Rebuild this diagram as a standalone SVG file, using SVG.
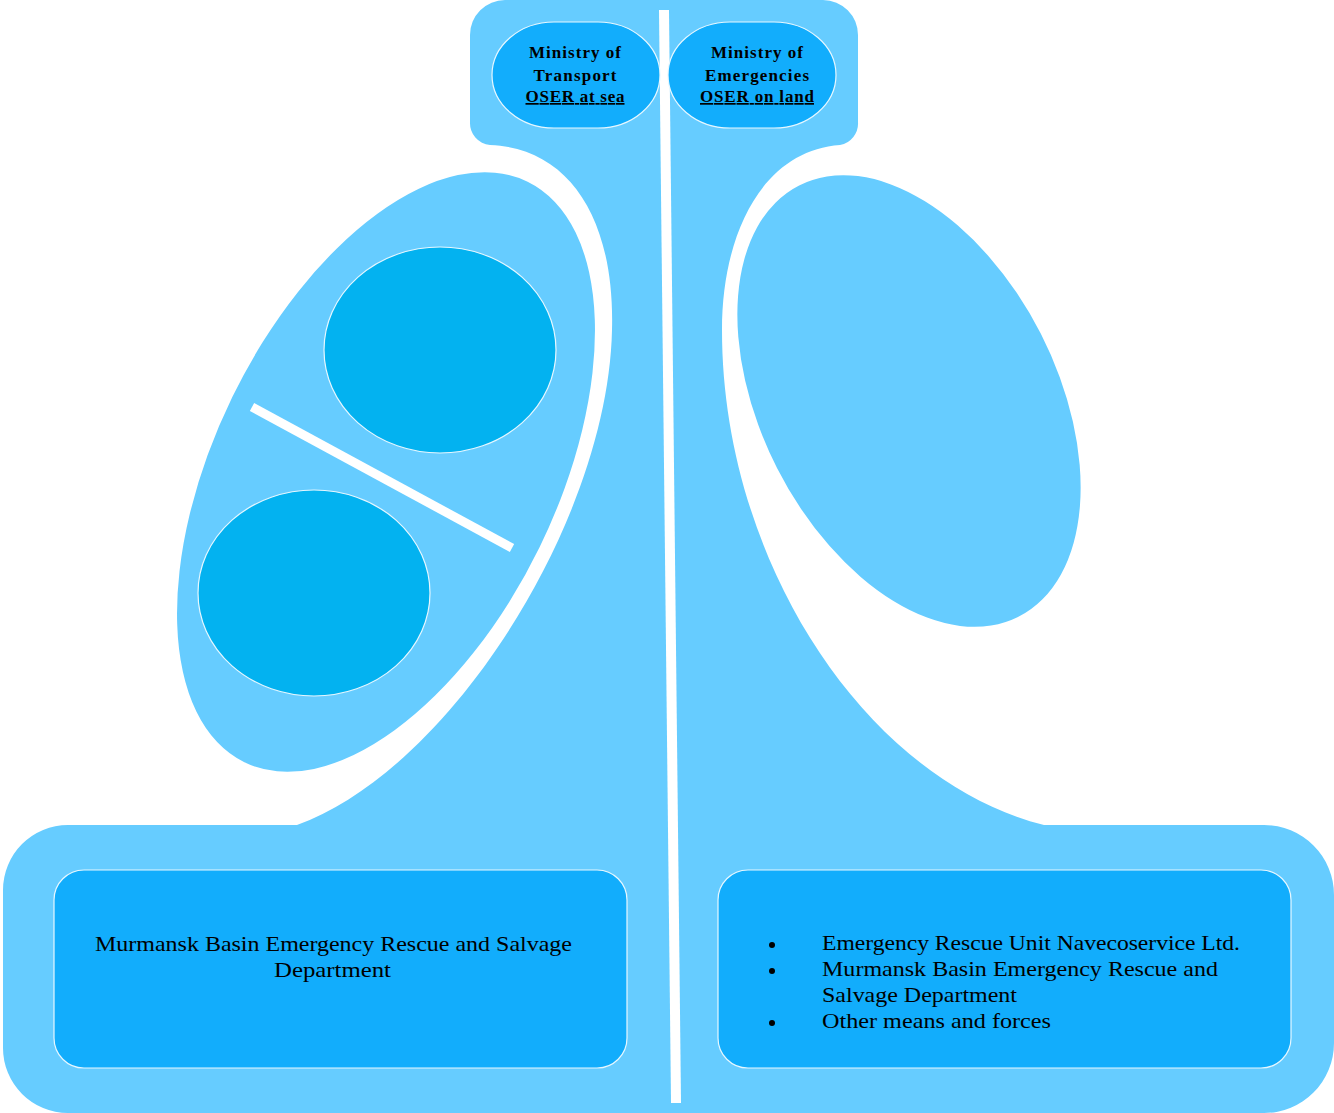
<svg xmlns="http://www.w3.org/2000/svg" width="1334" height="1113" viewBox="0 0 1334 1113">
<style>
.bg{fill:#66CCFF}
.box{fill:#12ADFC;stroke:#E6F7FF;stroke-width:1.2}
.circ{fill:#03B2F0;stroke:#E6F7FF;stroke-width:1.2}
.gap{stroke:#FFFFFF;stroke-width:10;fill:none}
.t{font-family:"Liberation Serif","Times New Roman",serif;fill:#000}
.tb{font-family:"Liberation Serif","Times New Roman",serif;font-weight:bold;font-size:17px;fill:#000;text-anchor:middle}
.tl{font-size:22px}
</style>
<rect width="1334" height="1113" fill="#FFFFFF"/>
<g id="frame">
<path class="bg" d="M505,0 H823 A35,35 0 0 1 858,35 V122 A22,22 0 0 1 840,145 C765,150 722,230 722,330 C722,560 865,780 1044,825 H1264 A70,70 0 0 1 1334,895 V1043 A70,70 0 0 1 1264,1113 H68 A65,65 0 0 1 3,1048 V890 A65,65 0 0 1 68,825 H297 C450,770 608,520 612,330 C615,220 570,148 490,145 A22,22 0 0 1 470,122 V35 A35,35 0 0 1 505,0 Z"/>
</g>
<g id="left-ellipse">
<ellipse class="bg" cx="386" cy="472" rx="323" ry="171" transform="rotate(-64 386 472)"/>
<ellipse class="circ" cx="440" cy="350" rx="116" ry="103"/>
<ellipse class="circ" cx="314" cy="593" rx="116" ry="103"/>
<line x1="252" y1="407" x2="512" y2="548" stroke="#FFFFFF" stroke-width="9"/>
</g>
<g id="right-ellipse">
<ellipse class="bg" cx="909" cy="401" rx="242" ry="148" transform="rotate(63 909 401)"/>
</g>
<g id="connectors">
<line class="gap" x1="664" y1="10" x2="676" y2="1103"/>
</g>
<g id="node-transport">
<rect class="box" x="492" y="22" width="168" height="106" rx="62" ry="53"/>
<text class="tb" x="575" y="58" textLength="92" lengthAdjust="spacing">Ministry of</text>
<text class="tb" x="575" y="81" textLength="83" lengthAdjust="spacing">Transport</text>
<text class="tb" x="575" y="102" textLength="99" lengthAdjust="spacing" text-decoration="underline">OSER at sea</text>
</g>
<g id="node-emergencies">
<rect class="box" x="668" y="22" width="168" height="106" rx="62" ry="53"/>
<text class="tb" x="757" y="58" textLength="92" lengthAdjust="spacing">Ministry of</text>
<text class="tb" x="757" y="81" textLength="104" lengthAdjust="spacing">Emergencies</text>
<text class="tb" x="757" y="102" textLength="114" lengthAdjust="spacing" text-decoration="underline">OSER on land</text>
</g>
<g id="node-sea-forces">
<rect class="box" x="54" y="870" width="573" height="198" rx="30"/>
<text class="t tl" x="95" y="951" textLength="477" lengthAdjust="spacingAndGlyphs">Murmansk Basin Emergency Rescue and Salvage</text>
<text class="t tl" x="274" y="977" textLength="117" lengthAdjust="spacingAndGlyphs">Department</text>
</g>
<g id="node-land-forces">
<rect class="box" x="718" y="870" width="573" height="198" rx="30"/>
<circle cx="772" cy="945" r="3"/>
<circle cx="772" cy="971" r="3"/>
<circle cx="772" cy="1023" r="3"/>
<text class="t tl" x="822" y="950" textLength="418" lengthAdjust="spacingAndGlyphs">Emergency Rescue Unit Navecoservice Ltd.</text>
<text class="t tl" x="822" y="976" textLength="396" lengthAdjust="spacingAndGlyphs">Murmansk Basin Emergency Rescue and</text>
<text class="t tl" x="822" y="1002" textLength="195" lengthAdjust="spacingAndGlyphs">Salvage Department</text>
<text class="t tl" x="822" y="1028" textLength="229" lengthAdjust="spacingAndGlyphs">Other means and forces</text>
</g>
</svg>
